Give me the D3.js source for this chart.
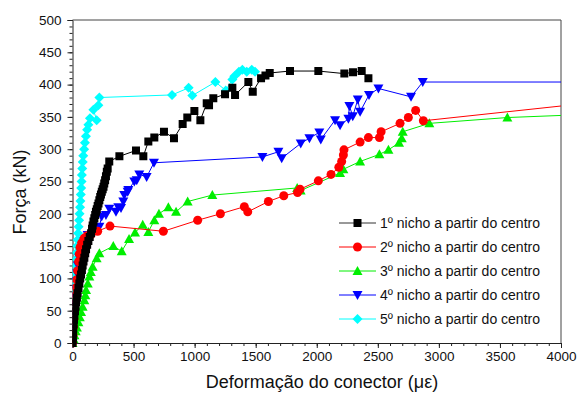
<!DOCTYPE html>
<html><head><meta charset="utf-8">
<script src="https://cdn.jsdelivr.net/npm/d3@7"></script>
<style>body{margin:0;background:#fff}svg{display:block}text{font-family:Arial,"Liberation Sans",sans-serif}</style>
</head><body><svg id="c" width="577" height="394"></svg>
<script>
const seriesNames = ["1º nicho a partir do centro","2º nicho a partir do centro","3º nicho a partir do centro","4º nicho a partir do centro","5º nicho a partir do centro"];
const seriesColors = ["#000000","#ff0000","#00ee00","#0000ff","#00ffff"];
const seriesSymbols = ["square","circle","triangle","triangleDown","diamond"];

const s1x = [0,1,2,4,6,9,12,15,20,25,29,36,42,49,56,63,70,77,83,90,97,104,111,120,130,141,152,160,165,172,179,186,192,199,206,213,220,227,233,240,247,254,260,267,274,281,288,301,384,520,580,621,670,749,831,902,940,998,1047,1099,1118,1153,1249,1309,1331,1440,1476,1544,1580,1615,1781,2013,2226,2297,2368,2423];
const s1y = [0,5,10,16,22,29,36,42,49,56,63,70,77,85,92,100,106,113,120,126,132,139,145,152,158,164,170,177,182,188,193,198,203,207,212,216,221,226,230,234,238,242,247,252,258,265,270,281,289,298,289,312,318,327,317,339,349,359,345,371,368,379,385,395,384,404,389,410,414,418,421,421,417,419,421,410];

const s2x = [0,4,8,12,16,20,25,30,35,42,50,56,62,75,95,120,152,206,307,744,1025,1211,1407,1435,1604,1730,1843,1863,2013,2117,2181,2204,2218,2223,2355,2423,2513,2527,2682,2750,2810,2873,4500];
const s2y = [0,12,25,37,50,62,74,86,98,112,126,138,148,155,162,166,168,173,181,173,190,200,211,203,219,228,233,238,251,261,272,281,291,299,311,318,318,327,340,349,360,344,377];

const s3x = [0,8,16,26,36,48,60,70,83,97,105,111,125,138,150,165,198,220,334,403,463,512,575,621,670,708,785,848,943,1145,1840,1868,2191,2218,2355,2513,2587,2674,2696,2704,2922,3561,4500];
const s3y = [0,6,12,18,24,32,40,48,56,66,74,82,92,103,110,118,131,139,150,142,161,171,183,172,190,200,210,203,219,229,240,236,263,269,281,292,299,310,317,327,340,349,356];

const s4x = [0,3,6,9,12,16,20,25,30,37,45,55,65,80,97,124,171,220,239,274,301,356,375,397,416,424,452,457,506,526,547,607,667,1555,1686,1713,1869,1940,2021,2033,2150,2191,2259,2267,2295,2336,2355,2428,2505,2772,2868,4500];
const s4y = [0,12,24,36,48,60,72,84,96,108,120,132,142,150,157,167,176,180,196,198,208,203,210,209,219,229,234,237,250,252,261,257,279,288,296,286,309,317,326,315,345,337,347,367,351,377,358,384,394,381,404,404];

const s5x = [0,2,4,6,8,10,12,14,16,18,20,23,26,30,34,38,42,46,50,54,58,62,65,68,71,74,77,80,84,88,95,102,110,120,130,143,198,171,212,220,815,951,981,1170,1255,1309,1325,1363,1391,1427,1468,1495];
const s5y = [0,10,20,30,40,50,60,70,80,90,100,110,120,130,140,150,160,170,180,190,200,210,220,230,240,250,260,270,280,290,300,310,320,330,338,348,345,361,368,380,384,395,383,404,391,408,413,420,423,420,423,420];

const seriesX = [s1x,s2x,s3x,s4x,s5x];
const seriesY = [s1y,s2y,s3y,s4y,s5y];
const xMajor = [0,500,1000,1500,2000,2500,3000,3500,4000];
const yMajor = [0,50,100,150,200,250,300,350,400,450,500];

const svg = d3.select("#c");
const L=72.5, R=561, T=20, B=343;
const x = d3.scaleLinear().domain([0,4000]).range([L,R]);
const y = d3.scaleLinear().domain([0,500]).range([B,T]);

svg.append("defs").append("clipPath").attr("id","clip")
  .append("rect").attr("x",L).attr("y",T-6).attr("width",R-L).attr("height",B-T+12);

const fmt = d3.format("d");
const gx = svg.append("g").attr("transform",`translate(0,${B})`);
gx.call(d3.axisBottom(x).tickValues(d3.range(0,4001,100)).tickSize(3).tickFormat(""));
gx.call(g=>g.selectAll(".domain").remove());
const gx2 = svg.append("g").attr("transform",`translate(0,${B})`)
  .call(d3.axisBottom(x).tickValues(xMajor).tickSize(5).tickPadding(3).tickFormat(fmt));
gx2.selectAll("text").attr("font-size",13.5).attr("fill","#111");
const gy = svg.append("g").attr("transform",`translate(${L},0)`);
gy.call(d3.axisLeft(y).tickValues(d3.range(0,501,10)).tickSize(3).tickFormat(""));
gy.call(g=>g.selectAll(".domain").remove());
const gy2 = svg.append("g").attr("transform",`translate(${L},0)`)
  .call(d3.axisLeft(y).tickValues(yMajor).tickSize(5).tickPadding(6).tickFormat(fmt));
gy2.selectAll("text").attr("font-size",13.5).attr("fill","#111");
svg.selectAll(".tick line").attr("stroke","#222");
svg.selectAll(".domain").attr("stroke","#222");
svg.append("path").attr("d",`M${L},${T}H${R}V${B}`).attr("fill","none").attr("stroke","#444").attr("stroke-width",1);

svg.append("text").attr("x",322).attr("y",388).attr("text-anchor","middle").attr("font-size",18)
  .attr("fill","#111").text("Deformação do conector (με)");
svg.append("text").attr("transform",`translate(26,192) rotate(-90)`).attr("text-anchor","middle")
  .attr("font-size",18).attr("fill","#111").text("Força (kN)");

function sym(type){
  if(type==="square") return "M-4,-4H4V4H-4Z";
  if(type==="circle") return "M4.5,0A4.5,4.5,0,1,1,-4.5,0A4.5,4.5,0,1,1,4.5,0Z";
  if(type==="triangle") return "M0,-5L5,4H-5Z";
  if(type==="triangleDown") return "M0,5L5,-4H-5Z";
  if(type==="diamond") return "M0,-5L5,0L0,5L-5,0Z";
}

const plot = svg.append("g").attr("clip-path","url(#clip)");
for(let i=4;i>=0;i--){
  const pts = seriesX[i].map((v,k)=>[v,seriesY[i][k]]);
  plot.append("path").datum(pts)
    .attr("d",d3.line().x(d=>x(d[0])).y(d=>y(d[1])))
    .attr("fill","none").attr("stroke",seriesColors[i]).attr("stroke-width",1);
  plot.append("g").selectAll("path").data(pts.filter(d=>d[0]<=4000)).join("path")
    .attr("transform",d=>`translate(${x(d[0])},${y(d[1])})`)
    .attr("d",sym(seriesSymbols[i])).attr("fill",seriesColors[i]);
}

const lg = svg.append("g");
seriesNames.forEach((n,i)=>{
  const yy = 223 + i*24;
  lg.append("line").attr("x1",339).attr("x2",376).attr("y1",yy).attr("y2",yy)
    .attr("stroke",i===0?"#333":seriesColors[i]).attr("stroke-width",1);
  lg.append("path").attr("transform",`translate(357.5,${yy})`).attr("d",sym(seriesSymbols[i])).attr("fill",seriesColors[i]);
  lg.append("text").attr("x",380).attr("y",yy+5).attr("font-size",14).attr("fill","#111").text(n);
});
</script></body></html>
